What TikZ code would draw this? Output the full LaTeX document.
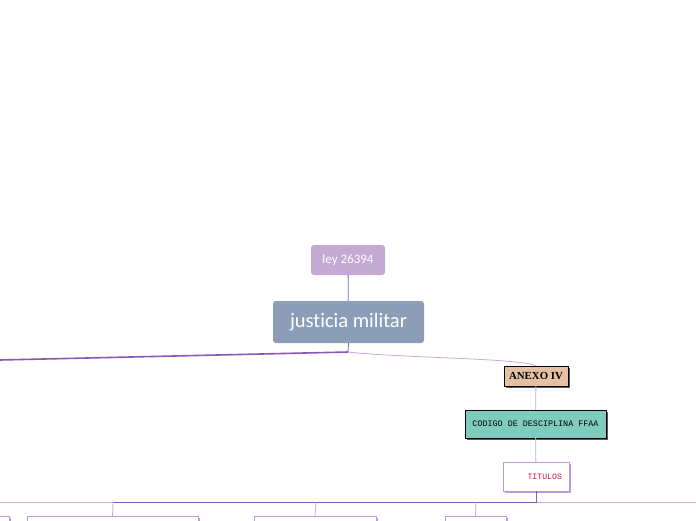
\documentclass[tikz,border=0pt]{standalone}
\usepackage{fontspec}
\setmainfont{Carlito}[Ligatures=NoCommon]
\newfontfamily\monofont{Liberation Mono}
\newfontfamily\boldserif{Liberation Serif}
\usetikzlibrary{shadows}

\definecolor{leyfill}{HTML}{C4A9D3}
\definecolor{mainfill}{HTML}{8C9DB7}
\definecolor{anexofill}{HTML}{E4C1A3}
\definecolor{codfill}{HTML}{7ECCBF}
\definecolor{darklink}{HTML}{8A58B3}
\definecolor{lightlink}{HTML}{C8AADB}
\definecolor{titred}{HTML}{D3173F}

\tikzset{
  topic/.style={rounded corners=3pt, text=white, inner sep=0pt},
  boxed/.style={draw=black, inner sep=0pt, drop shadow={shadow xshift=1.5pt, shadow yshift=-1.5pt, fill=black!65, opacity=1}},
  subbox/.style={draw=lightlink!80!darklink, fill=white, inner sep=0pt, drop shadow={shadow xshift=1.5pt, shadow yshift=-1.5pt, fill=lightlink!80!darklink, opacity=1}},
  link/.style={draw=darklink, line width=0.8pt},
  softlink/.style={draw=lightlink, line width=0.8pt}
}

\begin{document}
\begin{tikzpicture}[x=1pt,y=-1pt]
\useasboundingbox (0,0) rectangle (696,520);
\clip (0,0) rectangle (696,520);

\node[topic, fill=leyfill, minimum width=74, minimum height=30, font=\fontsize{13}{15}\selectfont] (ley) at (348,260) {ley 26394};
\node[topic, fill=mainfill, minimum width=151, minimum height=42, font=\fontsize{20.5}{23}\selectfont] (justicia) at (348.5,322) {justicia militar};

\node[boxed, fill=anexofill, minimum width=64, minimum height=20, font=\boldserif\bfseries\fontsize{10.8}{12}\selectfont] (anexo) at (536,376) {ANEXO IV};
\node[boxed, fill=codfill, minimum width=141, minimum height=28, font=\monofont\fontsize{8.4}{10}\selectfont] (codigo) at (535.5,424) {CODIGO DE DESCIPLINA FFAA};
\node[subbox, minimum width=66, minimum height=29, font=\monofont\fontsize{8.2}{10}\selectfont, text=titred, text width=52, align=right] (titulos) at (536,476.5) {TITULOS};

\node[subbox, minimum width=69, minimum height=30] (tit0) at (-25.5,531) {};
\node[subbox, minimum width=171, minimum height=30] (tit1) at (112.5,531) {};
\node[subbox, minimum width=122, minimum height=30] (tit2) at (315,531) {};
\node[subbox, minimum width=61, minimum height=30] (tit3) at (475.5,531) {};

\coordinate (fork) at (348,352);
\coordinate (farleft) at (0,360);
\coordinate (bar) at (536,502);
\coordinate (j1) at (113,502);
\coordinate (j2) at (316,502);
\coordinate (j3) at (476,502);
\coordinate (barleft) at (0,502);
\coordinate (barright) at (696,502);

\draw[link] (ley) -- (justicia);
\draw[link] (justicia.south) -- (fork);
\draw[darklink, line width=1.6pt] (fork) -- (farleft);
\draw[softlink] (fork) .. controls (400,358) and (520,358) .. (anexo.north);
\draw[softlink] (anexo) -- (codigo);
\draw[softlink] (codigo) -- (titulos);

\draw[softlink] (j1) -- (barleft);
\draw[softlink] (bar) -- (barright);
\draw[link] (titulos.south) -- (bar) -- (j1);
\draw[softlink] (j1) -- (tit1.north);
\draw[softlink] (j2) -- (tit2.north);
\draw[softlink] (j3) -- (tit3.north);
\end{tikzpicture}
\end{document}
